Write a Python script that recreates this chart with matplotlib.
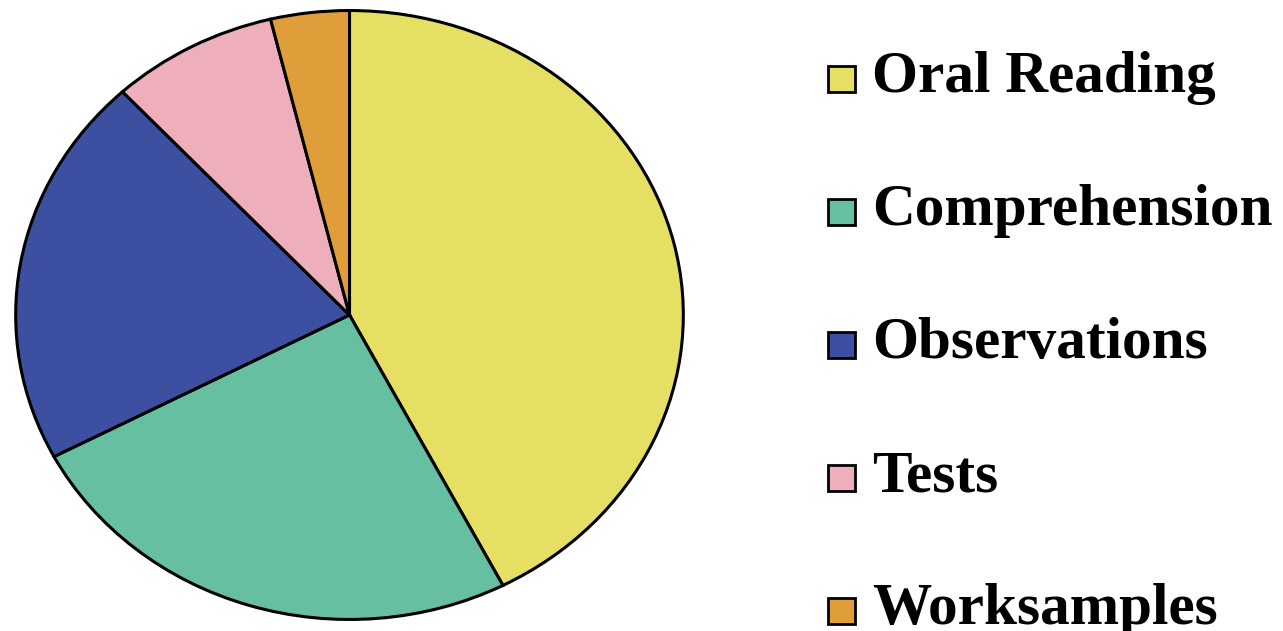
import matplotlib.pyplot as plt
from matplotlib.patches import Rectangle

labels = ["Oral Reading", "Comprehension", "Observations", "Tests", "Worksamples"]
shares = [42.4, 24.9, 20.8, 8.1, 3.8]
colors = ["#E5DF63", "#66BFA0", "#3C4FA0", "#EFAEBB", "#E09E3A"]

W, H = 1283, 631
fig = plt.figure(figsize=(W / 100, H / 100), dpi=100)

# pie is slightly squashed in the reference, so no equal aspect
ax = fig.add_axes([14 / W, 10 / H, 671 / W, 612 / H])
ax.pie(shares, colors=colors, startangle=90, counterclock=False,
       wedgeprops=dict(edgecolor="black", linewidth=2.2))
ax.set_xlim(-1.005, 1.005)
ax.set_ylim(-1.005, 1.005)
ax.set_aspect("auto")
ax.axis("off")

for i, (lab, c) in enumerate(zip(labels, colors)):
    base = 92 + i * 133
    fig.patches.append(Rectangle((828 / W, (H - base) / H), 27 / W, 26 / H,
                                 transform=fig.transFigure, facecolor=c,
                                 edgecolor="black", linewidth=2))
    fig.text(872 / W, (H - base) / H, lab, fontsize=42.7, fontweight="bold",
             family="Liberation Serif", ha="left", va="baseline")

fig.savefig("out.png", dpi=100, facecolor="white")
